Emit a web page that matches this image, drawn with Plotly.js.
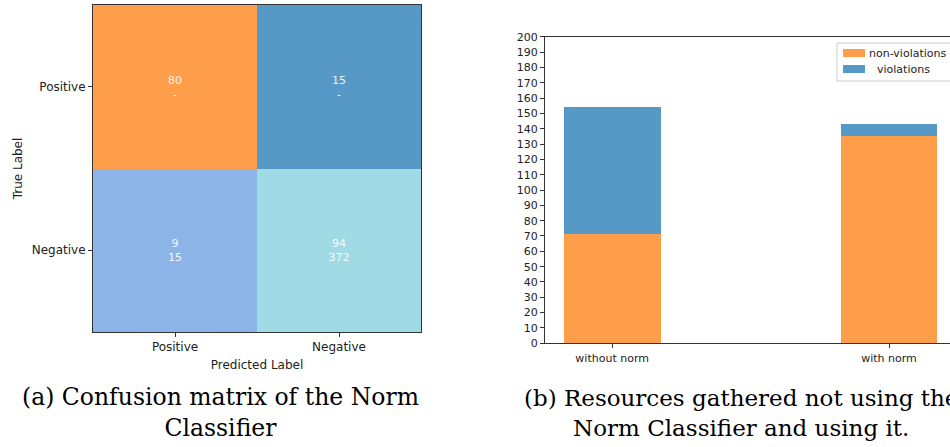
<!DOCTYPE html>
<html>
<head>
<meta charset="utf-8">
<script src="https://cdn.plot.ly/plotly-3.0.1.min.js"></script>
<style>html,body{margin:0;padding:0;background:#fff;}</style>
</head>
<body>
<div id="chart" style="width:950px;height:447px;"></div>
<script>
// (a) Confusion matrix of the Norm Classifier
const classLabels = ['Positive', 'Negative'];
const cellTopValues = [[80, 15], [9, 94]];
const cellBottomValues = [['-', '-'], [15, 372]];
const cellColors = [['#FF9E4A', '#5698C6'], ['#8DB4E6', '#9FDAE5']];

// (b) Resources gathered with and without the classifier
const runs = ['without norm', 'with norm'];
const seriesNames = ['non-violations', 'violations'];
const nonViolations = [71, 135];
const violations = [83, 8];
const yTicks = [0, 10, 20, 30, 40, 50, 60, 70, 80, 90, 100, 110, 120, 130, 140, 150, 160, 170, 180, 190, 200];

const ORANGE = '#FF9E4A';
const BLUE = '#5698C6';
const TEXT = '#222';
const AXIS = '#333';

// each cell gets its own colour: z holds the cell index, the colorscale maps index -> colour
const flatColors = cellColors.flat();
const n = flatColors.length;
const colorscale = [];
flatColors.forEach((c, i) => {
  colorscale.push([i / n, c]);
  colorscale.push([(i + 1) / n, c]);
});
const zIndex = cellColors.map((row, r) => row.map((_, c) => r * row.length + c + 0.5));
const cellText = cellTopValues.map((row, r) => row.map((v, c) => v + '<br>' + cellBottomValues[r][c]));

const heat = {
  type: 'heatmap',
  x: classLabels,
  y: classLabels,
  z: zIndex,
  zmin: 0,
  zmax: n,
  colorscale: colorscale,
  showscale: false,
  text: cellText,
  texttemplate: '%{text}',
  textfont: {family: 'DejaVu Sans', size: 11, color: 'rgba(255,255,255,0.9)'},
  hoverinfo: 'skip',
  showlegend: false,
  xaxis: 'x',
  yaxis: 'y'
};

const barColors = [ORANGE, BLUE];
const barSeries = [nonViolations, violations];
const bars = barSeries.map((vals, i) => ({
  type: 'bar',
  name: seriesNames[i],
  x: runs,
  y: vals,
  width: 0.35,
  marker: {color: barColors[i]},
  xaxis: 'x2',
  yaxis: 'y2',
  hoverinfo: 'skip',
  showlegend: false
}));

const W = 950, H = 447;
const px = v => v / W;
const py = v => 1 - v / H;

const baseAxis = {
  showline: true,
  linecolor: AXIS,
  linewidth: 1,
  ticks: 'outside',
  ticklen: 4,
  tickcolor: AXIS,
  showgrid: false,
  zeroline: false,
  fixedrange: true
};

// legend box in the upper right corner of panel (b), matplotlib style
const legendShapes = [
  {type: 'rect', xref: 'paper', yref: 'paper', x0: px(837), x1: px(965), y0: py(81), y1: py(43),
   fillcolor: 'rgba(255,255,255,0.9)', line: {color: '#ccc', width: 1}}
];
const legendRows = [53, 69];
const legendTextX = [867, 875];
const legendNotes = [];
seriesNames.forEach((name, i) => {
  legendShapes.push({
    type: 'rect', xref: 'paper', yref: 'paper',
    x0: px(843), x1: px(865), y0: py(legendRows[i] + 4), y1: py(legendRows[i] - 4),
    fillcolor: barColors[i], line: {width: 0}
  });
  legendNotes.push({
    xref: 'paper', yref: 'paper', x: px(legendTextX[i]), y: py(legendRows[i]),
    xanchor: 'left', yanchor: 'middle', showarrow: false,
    text: name, font: {family: 'DejaVu Sans', size: 11, color: TEXT}
  });
});

const layout = {
  width: W,
  height: H,
  margin: {l: 0, r: 0, t: 0, b: 0, autoexpand: false},
  paper_bgcolor: '#fff',
  plot_bgcolor: '#fff',
  font: {family: 'DejaVu Sans', color: TEXT},
  barmode: 'stack',
  showlegend: false,
  xaxis: Object.assign({}, baseAxis, {
    domain: [px(93), px(421)],
    anchor: 'y',
    type: 'category',
    mirror: true,
    tickfont: {size: 12, color: TEXT},
    title: {text: 'Predicted Label', font: {size: 12, color: TEXT}, standoff: 7}
  }),
  yaxis: Object.assign({}, baseAxis, {
    domain: [py(332), py(5)],
    anchor: 'x',
    type: 'category',
    autorange: 'reversed',
    mirror: true,
    tickfont: {size: 12, color: TEXT},
    title: {text: 'True Label', font: {size: 12, color: TEXT}, standoff: 6}
  }),
  xaxis2: Object.assign({}, baseAxis, {
    domain: [px(545), 1],
    anchor: 'y2',
    type: 'category',
    range: [-0.2425, 1.2202],
    mirror: true,
    tickfont: {size: 11, color: TEXT}
  }),
  yaxis2: Object.assign({}, baseAxis, {
    domain: [py(343.3), py(36.7)],
    anchor: 'x2',
    range: [0, 200],
    tickvals: yTicks,
    tickfont: {size: 11, color: TEXT}
  }),
  shapes: legendShapes,
  annotations: legendNotes.concat([
    {
      xref: 'paper', yref: 'paper',
      x: px(220), y: py(412.5),
      xanchor: 'center', yanchor: 'middle',
      showarrow: false, align: 'center',
      text: '(a) Confusion matrix of the Norm<br>Classifier',
      font: {family: 'DejaVu Serif', size: 23.5, color: '#000'}
    },
    {
      xref: 'paper', yref: 'paper',
      x: px(741), y: py(412.5),
      xanchor: 'center', yanchor: 'middle',
      showarrow: false, align: 'center',
      text: '(b) Resources gathered not using the<br>Norm Classifier and using it.',
      font: {family: 'DejaVu Serif', size: 23, color: '#000'}
    }
  ])
};

Plotly.newPlot('chart', [heat].concat(bars), layout, {displayModeBar: false, staticPlot: true});
</script>
</body>
</html>
